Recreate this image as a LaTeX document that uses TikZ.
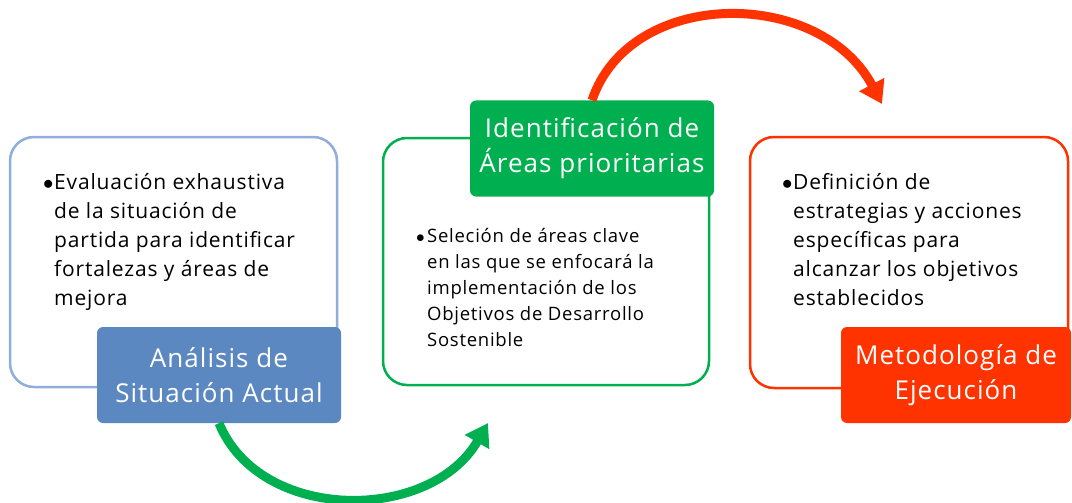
\documentclass[tikz,border=0pt]{standalone}
\usepackage{fontspec}
\setmainfont{Open Sans}[LetterSpace=4]
\usetikzlibrary{arrows.meta}
\definecolor{azulclaro}{HTML}{8FAEDA}
\definecolor{azul}{HTML}{5B88C1}
\definecolor{verde}{HTML}{00B050}
\definecolor{rojo}{HTML}{FF3300}
\newcommand{\vineta}[2]{\makebox[11pt][l]{$\bullet$}\parbox[t]{#1}{\raggedright #2}}

\begin{document}
\begin{tikzpicture}[x=1pt,y=-1pt,
    marco/.style={draw,line width=2.5pt,rounded corners=24pt,inner sep=0pt},
    titulo/.style={rounded corners=6pt,text=white,align=center,inner sep=0pt,
      minimum width=244pt,minimum height=96pt,font=\fontsize{26}{35}\selectfont},
    texto/.style={anchor=north west,inner sep=0pt},
    flecha/.style={line width=9pt,-{Triangle[length=22pt,width=27pt]}}]
    \useasboundingbox (0,0) rectangle (1072,503);
    % marcos
    \node[marco,draw=azulclaro,minimum width=327pt,minimum height=250pt] (analisis) at (173.5,262) {};
    \node[marco,draw=verde,minimum width=326pt,minimum height=247pt] (areas) at (546,261.5) {};
    \node[marco,draw=rojo,minimum width=318pt,minimum height=251pt] (metodo) at (909,262.5) {};
    % textos
    \node[texto,font=\fontsize{21}{29}\selectfont] (txtanalisis) at (43,173)
      {\vineta{270pt}{Evaluación exhaustiva\\de la situación de\\partida para identificar\\fortalezas y áreas de\\mejora}};
    \node[texto,font=\fontsize{18.5}{26}\selectfont] (txtareas) at (416,228)
      {\vineta{270pt}{Seleción de áreas clave\\en las que se enfocará la\\implementación de los\\Objetivos de Desarrollo\\Sostenible}};
    \node[texto,font=\fontsize{21}{29}\selectfont] (txtmetodo) at (782,173)
      {\vineta{270pt}{Definición de\\estrategias y acciones\\específicas para\\alcanzar los objetivos\\establecidos}};
    % titulos
    \node[titulo,fill=azul] (titanalisis) at (219,375) {Análisis de\\Situación Actual};
    \node[titulo,fill=verde] (titareas) at (592,148.5) {Identificación de\\Áreas prioritarias};
    \node[titulo,fill=rojo,minimum width=230pt] (titmetodo) at (956,375) {Metodología de\\Ejecución};
    % flechas
    \coordinate (fin1) at (882,104);
    \coordinate (fin2) at (488,423);
    \draw[flecha,rojo] (titareas.north) .. controls (630,-13) and (820,-13) .. (fin1);
    \draw[flecha,verde] (titanalisis.south) .. controls (260,523) and (430,523) .. (fin2);
\end{tikzpicture}
\end{document}
